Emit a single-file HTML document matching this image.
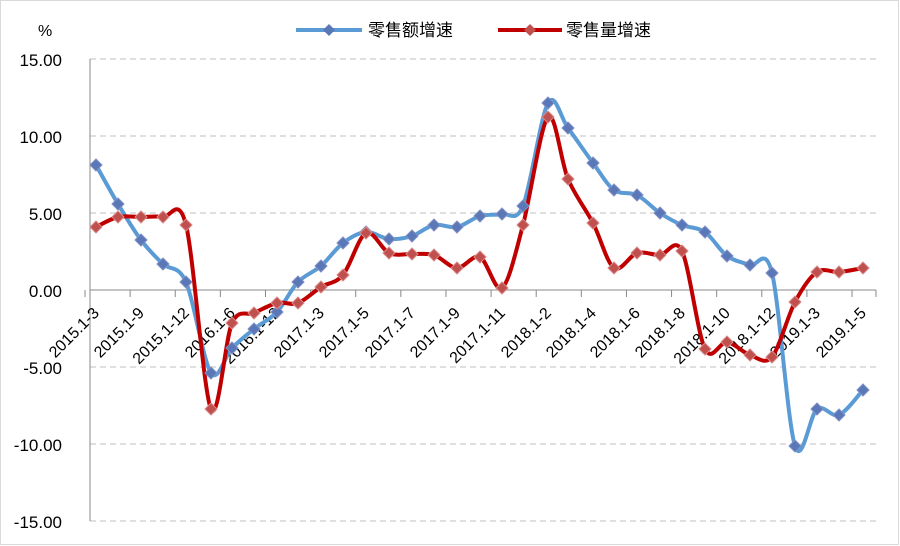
<!DOCTYPE html>
<html><head><meta charset="utf-8"><style>
body{margin:0;background:#fff}
svg{display:block;font-family:"Liberation Sans","Noto Sans CJK SC",sans-serif}
</style></head><body>
<svg id="s" width="900" height="546" viewBox="0 0 900 546">
<rect x="0.5" y="0.5" width="898" height="544" fill="#fff" stroke="#d9d9d9"/>
<g stroke="#bfbfbf" stroke-dasharray="6,4" stroke-width="1">
<line x1="90" y1="59" x2="876" y2="59"/>
<line x1="90" y1="136" x2="876" y2="136"/>
<line x1="90" y1="213" x2="876" y2="213"/>
<line x1="90" y1="367" x2="876" y2="367"/>
<line x1="90" y1="444" x2="876" y2="444"/>
<line x1="90" y1="521" x2="876" y2="521"/>
</g>
<line x1="90" y1="59" x2="90" y2="521" stroke="#888"/>
<line x1="90" y1="290" x2="876" y2="290" stroke="#888"/>
<g id="ticks" stroke="#888"></g>
<g font-size="17" text-anchor="end" fill="#000">
<text x="62" y="66">15.00</text><text x="62" y="143">10.00</text><text x="62" y="220">5.00</text>
<text x="62" y="297">0.00</text><text x="62" y="374">-5.00</text><text x="62" y="451">-10.00</text><text x="62" y="528">-15.00</text>
</g>
<text x="38" y="36" font-size="16">%</text>
<g id="xl" font-size="16" text-anchor="end"></g>
<path id="pb" fill="none" stroke="#5b9bd5" stroke-width="4"/>
<path id="pr" fill="none" stroke="#c00000" stroke-width="4"/>
<g id="mb" fill="#5a78b8" stroke="#7f8fc4"></g>
<g id="mr" fill="#c0504d" stroke="#d98a8a"></g>
<line x1="296" y1="30" x2="362" y2="30" stroke="#5b9bd5" stroke-width="4"/>
<path d="M329 24 L335 30 L329 36 L323 30Z" fill="#5a78b8"/>
<text x="368" y="36" font-size="17">零售额增速</text>
<line x1="498" y1="30" x2="562" y2="30" stroke="#c00000" stroke-width="4"/>
<path d="M530 24 L536 30 L530 36 L524 30Z" fill="#c0504d"/>
<text x="566" y="36" font-size="17">零售量增速</text>
</svg>
<script>
var xs=[96,118,141,163,186,211,232,254,277,298,321,343,366,389,412,434,457,480,502,523,548,568,593,614,637,660,682,705,727,750,772,795,817,839,863];
var b=[165,204,240,264,282,373,348,329,312,282,266,243,232,239,236,225,227,216,214,206,103,128,163,190,195,213,225,232,256,265,273,446,409,415,390];
var r=[227,217,217,217,225,409,323,313,303,303,287,275,233,253,254,255,268,257,288,225,117,179,223,268,253,255,251,349,342,355,357,302,272,272,268];
function path(y){var d="M"+xs[0]+" "+y[0];for(var i=0;i<xs.length-1;i++){var p0=i?i-1:i,p3=i+2<xs.length?i+2:i+1;var t=0.16;
var c1x=xs[i]+(xs[i+1]-xs[p0])*t,c1y=y[i]+(y[i+1]-y[p0])*t,c2x=xs[i+1]-(xs[p3]-xs[i])*t,c2y=y[i+1]-(y[p3]-y[i])*t;
d+=" C"+c1x+" "+c1y+" "+c2x+" "+c2y+" "+xs[i+1]+" "+y[i+1];}return d;}
document.getElementById("pb").setAttribute("d",path(b));
document.getElementById("pr").setAttribute("d",path(r));
var ns="http://www.w3.org/2000/svg";
function mk(g,y){var G=document.getElementById(g);for(var i=0;i<xs.length;i++){var p=document.createElementNS(ns,"path");p.setAttribute("d","M"+xs[i]+" "+(y[i]-6)+"l6 6l-6 6l-6 -6z");G.appendChild(p);}}
mk("mb",b);mk("mr",r);
var T=document.getElementById("ticks");for(var k=0;k<=18;k++){var x=85+k*45.12;if(x>877)x=876;var l=document.createElementNS(ns,"line");l.setAttribute("x1",x);l.setAttribute("x2",x);l.setAttribute("y1",290);l.setAttribute("y2",297);T.appendChild(l);}
var labs=["2015.1-3","2015.1-9","2015.1-12","2016.1-6","2016.1-12","2017.1-3","2017.1-5","2017.1-7","2017.1-9","2017.1-11","2018.1-2","2018.1-4","2018.1-6","2018.1-8","2018.1-10","2018.1-12","2019.1-3","2019.1-5"];
var X=document.getElementById("xl");labs.forEach(function(s,i){var t=document.createElementNS(ns,"text");var x=xs[2*i]+4,y=314;t.setAttribute("x",x);t.setAttribute("y",y);t.setAttribute("transform","rotate(-45 "+x+" "+y+")");t.textContent=s;X.appendChild(t);});
</script>
</body></html>
